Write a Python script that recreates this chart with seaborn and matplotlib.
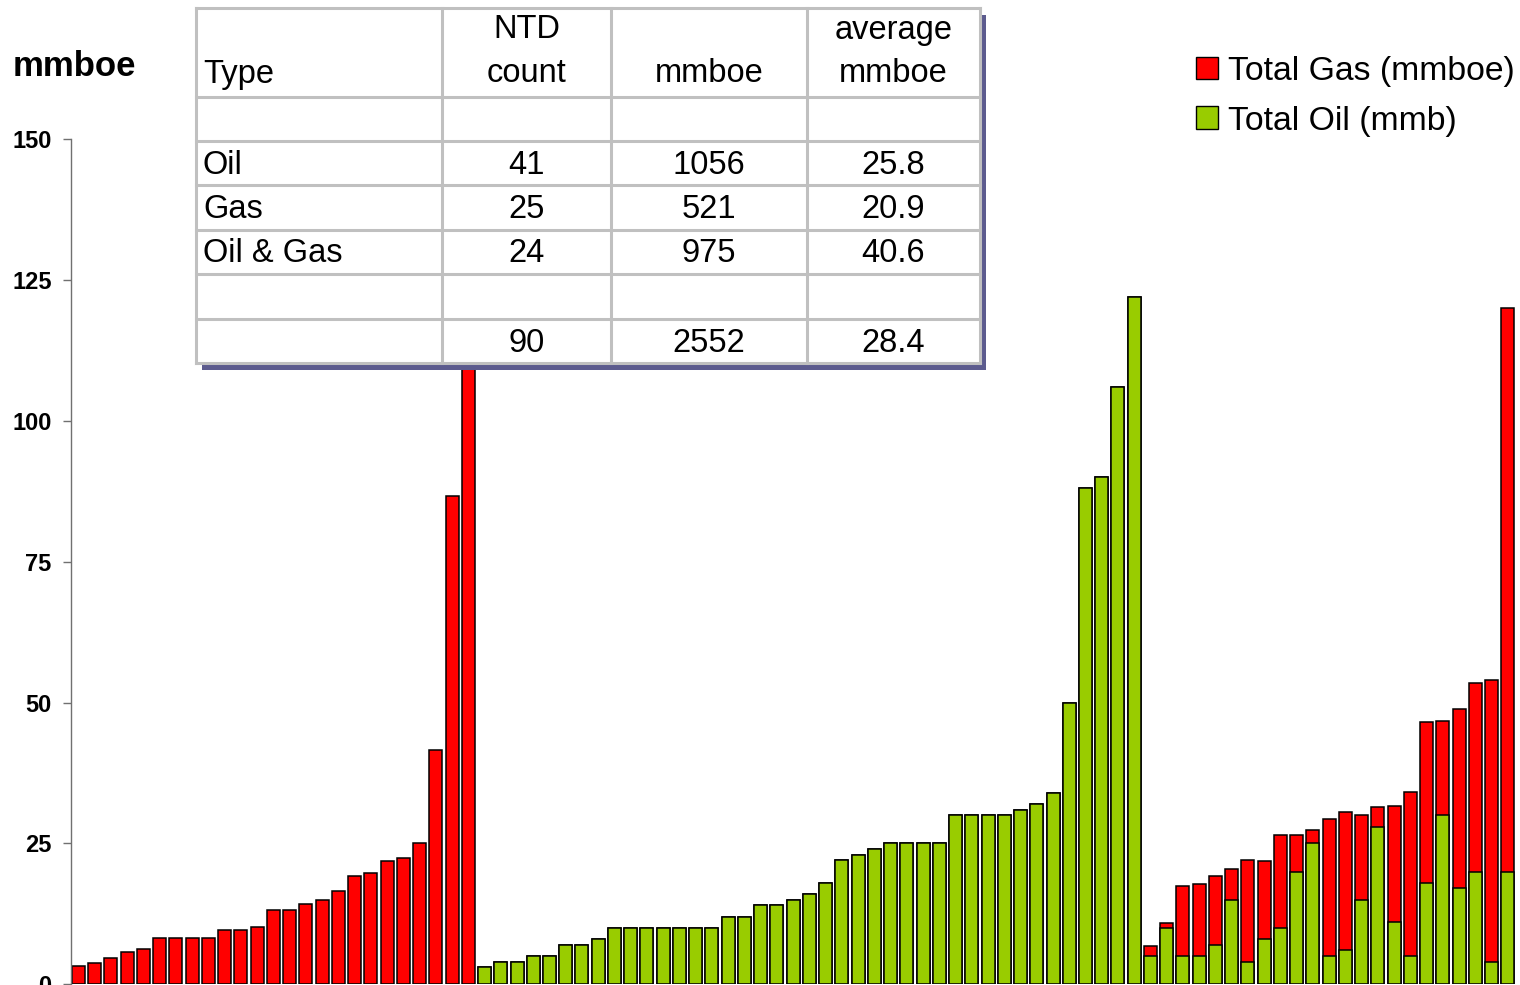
import numpy as np
import pandas as pd
import matplotlib
matplotlib.use("Agg")
import matplotlib.pyplot as plt
from matplotlib.patches import Patch, Rectangle
from matplotlib import font_manager
import seaborn as sns

# ---- field reserves, sorted within each discovery type ----
gas_only_gas = [3.3, 3.7, 4.6, 5.7, 6.3, 8.2, 8.2, 8.2, 8.2, 9.7, 9.7, 10.2, 13.2,
                13.2, 14.3, 14.9, 16.6, 19.3, 19.8, 21.9, 22.4, 25.0, 41.5, 86.6, 126.3]
oil_only_oil = [3, 4, 4, 5, 5, 7, 7, 8, 10, 10, 10, 10, 10, 10, 10, 12, 12, 14, 14,
                15, 16, 18, 22, 23, 24, 25, 25, 25, 25, 30, 30, 30, 30, 31, 32, 34,
                50, 88, 90, 106, 122]
oil_gas_oil = [5, 10, 5, 5, 7, 15, 4, 8, 10, 20, 25, 5, 6, 15, 28, 11, 5, 18, 30,
               17, 20, 4, 20]
oil_gas_gas = [1.8, 0.9, 12.5, 12.8, 12.3, 5.4, 18.1, 13.9, 16.5, 6.5, 2.4, 24.4,
               24.6, 15.0, 3.5, 20.7, 29.1, 28.5, 16.7, 31.8, 33.4, 50.0, 100.0]

series_labels = ["Total Gas (mmboe)", "Total Oil (mmb)"]
y_ticks = [0, 25, 50, 75, 100, 125, 150]
y_title = "mmboe"

# summary table
table_header = [["", "Type"], ["NTD", "count"], ["", "mmboe"], ["average", "mmboe"]]
table_types = ["Oil", "Gas", "Oil & Gas"]
table_counts = [41, 25, 24]
table_mmboe = [1056, 521, 975]
table_avg = [25.8, 20.9, 40.6]
table_total = ["", "90", "2552", "28.4"]

# ---- assemble the frame ----
gas = gas_only_gas + [0.0] * len(oil_only_oil) + oil_gas_gas
oil = [np.nan] * len(gas_only_gas) + oil_only_oil + oil_gas_oil
df = pd.DataFrame({"field": np.arange(len(gas)), "gas": gas, "oil": oil})
df["total"] = df["gas"] + df["oil"].fillna(0)
order = list(df["field"])

RED = "#FF0000"
GREEN = "#99CC00"

sns.set_theme(style="white")
plt.rcParams["font.family"] = ["Liberation Sans", "DejaVu Sans"]
plt.rcParams["text.color"] = "black"
plt.rcParams["ytick.color"] = "black"

W, H = 1520, 985
fig = plt.figure(figsize=(W / 100, H / 100), dpi=100)
fig.patch.set_facecolor("white")
ax = fig.add_axes([71 / W, 0.7 / H, (W - 71) / W, (984.3 - 139) / H])

bar_kw = dict(order=order, width=0.8, edgecolor="black", linewidth=1.1,
              errorbar=None, ax=ax)
sns.barplot(data=df, x="field", y="total", color=RED, saturation=1, **bar_kw)
sns.barplot(data=df.dropna(subset=["oil"]), x="field", y="oil", color=GREEN,
            saturation=1, **bar_kw)

ax.set_ylim(0, 150)
ax.set_xlim(-0.46, len(order) - 1 + 0.75)
ax.set_yticks(y_ticks)
ax.set_yticklabels([str(t) for t in y_ticks], fontsize=17, fontweight="bold",
                   color="black")
ax.set_xticks([])
ax.set_xlabel("")
ax.set_ylabel("")
for side in ["top", "right", "bottom"]:
    ax.spines[side].set_visible(False)
ax.spines["left"].set_color("#707070")
ax.spines["left"].set_linewidth(1.0)
ax.tick_params(axis="y", direction="out", length=6, width=1.0, color="#707070",
               pad=8, left=True)
ax.patch.set_alpha(0)

fig.text(13 / W, 1 - 66 / H, y_title, fontsize=25, fontweight="bold",
         ha="left", va="center", color="black")

handles = [Patch(facecolor=RED, edgecolor="black", linewidth=1.0),
           Patch(facecolor=GREEN, edgecolor="black", linewidth=1.0)]
fig.legend(handles, series_labels, loc="upper left",
           bbox_to_anchor=(1196 / W, 1 - 56 / H), frameon=False,
           fontsize=24.3, handlelength=0.65, handleheight=0.65,
           handletextpad=0.3, labelspacing=0.55, borderpad=0, borderaxespad=0)

# ---- summary table overlay, in pixel coordinates ----
tab = fig.add_axes([0, 0, 1, 1], zorder=5)
tab.set_xlim(0, W)
tab.set_ylim(H, 0)
tab.axis("off")
tab.patch.set_alpha(0)

names = {f.name for f in font_manager.fontManager.ttflist}
if "Liberation Sans Narrow" in names:
    tfont, tsize = ["Liberation Sans Narrow", "Liberation Sans"], 28.5
else:
    tfont, tsize = ["Liberation Sans", "DejaVu Sans"], 23.5

cols = [196, 442, 611, 807, 980]
rows = [8, 97, 141, 185, 230, 274, 319, 363]
x0, x1, y0, y1 = cols[0], cols[-1], rows[0], rows[-1]
tab.add_patch(Rectangle((x0 + 6, y0 + 7), x1 - x0, y1 - y0,
                        facecolor="#5C5B8E", edgecolor="none"))
tab.add_patch(Rectangle((x0, y0), x1 - x0, y1 - y0,
                        facecolor="white", edgecolor="none"))
grid_kw = dict(color="#C0C0C0", linewidth=2.2, solid_capstyle="projecting")
for c in cols:
    tab.plot([c, c], [y0, y1], **grid_kw)
for r in rows:
    tab.plot([x0, x1], [r, r], **grid_kw)

centers = [(cols[i] + cols[i + 1]) / 2 for i in range(4)]
txt_kw = dict(fontsize=tsize, family=tfont, color="black", va="center")
for i, (l1, l2) in enumerate(table_header):
    if i == 0:
        tab.text(cols[0] + 7, 75, l2, ha="left", **txt_kw)
    else:
        if l1:
            tab.text(centers[i], 30, l1, ha="center", **txt_kw)
        tab.text(centers[i], 74, l2, ha="center", **txt_kw)

for k, (t, n, m, a) in enumerate(zip(table_types, table_counts, table_mmboe, table_avg)):
    yc = (rows[2 + k] + rows[3 + k]) / 2 + 2
    tab.text(cols[0] + 7, yc, t, ha="left", **txt_kw)
    tab.text(centers[1], yc, str(n), ha="center", **txt_kw)
    tab.text(centers[2], yc, str(m), ha="center", **txt_kw)
    tab.text(centers[3], yc, f"{a:.1f}", ha="center", **txt_kw)

yc = (rows[6] + rows[7]) / 2 + 2
for i, v in enumerate(table_total):
    if v:
        tab.text(centers[i], yc, v, ha="center", **txt_kw)

fig.savefig("out.png", dpi=100)
